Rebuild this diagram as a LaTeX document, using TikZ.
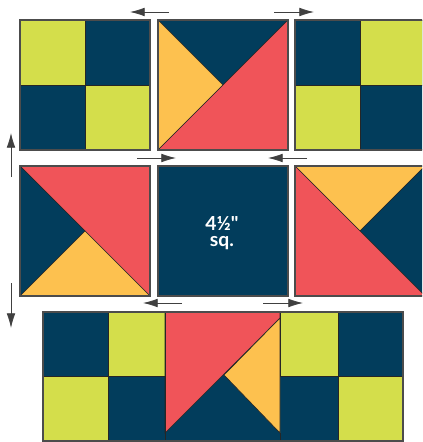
\documentclass[tikz,border=0pt]{standalone}
\usepackage{fontspec}
\newfontfamily\sqfont{Lato}
\usetikzlibrary{arrows.meta}

\definecolor{navy}{HTML}{023D5C}
\definecolor{lime}{HTML}{D4DE4B}
\definecolor{gold}{HTML}{FDC14F}
\definecolor{coral}{HTML}{F05459}

\begin{document}
\begin{tikzpicture}[
  x=0.75pt,y=-0.75pt,
  patch/.style={draw=black!85,line width=0.5pt,line join=miter},
  outline/.style={draw=black!70,line width=0.8pt},
  press/.style={-{Latex[length=11pt,width=6.5pt]},line width=0.6pt,black!75},
  sizetext/.style={font=\sqfont\bfseries\fontsize{14.5}{12.5}\selectfont,
                   text=white,align=center,inner sep=0pt}
]
  \useasboundingbox (0,0) rectangle (422,442);
  \clip (0,0) rectangle (422,442);

  % row 1: four-patch, half-square triangles, four-patch
  \fill[navy] (20,20) rectangle (150,150);
  \filldraw[patch,fill=lime] (20,20) rectangle (85,85);
  \filldraw[patch,fill=lime] (85,85) rectangle (150,150);
  \draw[outline] (20,20) rectangle (150,150);

  \filldraw[patch,fill=navy] (158,20) -- (288,20) -- (223,85) -- cycle;
  \filldraw[patch,fill=gold] (158,20) -- (223,85) -- (158,150) -- cycle;
  \filldraw[patch,fill=coral] (158,150) -- (288,20) -- (288,150) -- cycle;
  \draw[outline] (158,20) rectangle (288,150);

  \fill[navy] (295,20) rectangle (425,150);
  \filldraw[patch,fill=lime] (360,20) rectangle (425,85);
  \filldraw[patch,fill=lime] (295,85) rectangle (360,150);
  \draw[outline] (295,20) rectangle (425,150);

  % row 2
  \filldraw[patch,fill=coral] (20,166) -- (150,166) -- (150,296) -- cycle;
  \filldraw[patch,fill=navy] (20,166) -- (85,231) -- (20,296) -- cycle;
  \filldraw[patch,fill=gold] (20,296) -- (85,231) -- (150,296) -- cycle;
  \draw[outline] (20,166) rectangle (150,296);

  \fill[navy] (158,166) rectangle (288,296);
  \draw[outline] (158,166) rectangle (288,296);
  \node[sizetext] (size) at (222,233) {4½"\\sq.};

  \filldraw[patch,fill=gold] (295,166) -- (425,166) -- (360,231) -- cycle;
  \filldraw[patch,fill=navy] (425,166) -- (360,231) -- (425,296) -- cycle;
  \filldraw[patch,fill=coral] (295,166) -- (425,296) -- (295,296) -- cycle;
  \draw[outline] (295,166) rectangle (425,296);

  % row 3: sewn row
  \fill[navy] (43,312) rectangle (403,441);
  \filldraw[patch,fill=lime] (108,312) rectangle (165,376);
  \filldraw[patch,fill=lime] (43,376) rectangle (108,441);
  \filldraw[patch,fill=coral] (165,312) -- (280,312) -- (280,318) -- (165,433) -- cycle;
  \filldraw[patch,fill=gold] (280,318) -- (224,375) -- (280,433) -- cycle;
  \filldraw[patch,fill=lime] (280,312) rectangle (338,376);
  \filldraw[patch,fill=lime] (338,376) rectangle (403,441);
  \draw[patch] (108,376) -- (108,441) (165,312) -- (165,441)
               (280,433) -- (280,441) (338,312) -- (338,376);
  \draw[outline] (43,312) rectangle (403,441);

  % pressing directions
  \coordinate (r1a) at (169,12);  \coordinate (r1b) at (130,12);
  \coordinate (r1c) at (274,12);  \coordinate (r1d) at (314,12);
  \coordinate (r2a) at (137,158); \coordinate (r2b) at (176,158);
  \coordinate (r2c) at (307,158); \coordinate (r2d) at (268,158);
  \coordinate (r3a) at (182,303); \coordinate (r3b) at (143,303);
  \coordinate (r3c) at (263,303); \coordinate (r3d) at (303,303);
  \coordinate (upa) at (11,177);  \coordinate (upb) at (11,133);
  \coordinate (dna) at (11,283);  \coordinate (dnb) at (11,328);

  \draw[press] (r1a) -- (r1b);
  \draw[press] (r1c) -- (r1d);
  \draw[press] (r2a) -- (r2b);
  \draw[press] (r2c) -- (r2d);
  \draw[press] (r3a) -- (r3b);
  \draw[press] (r3c) -- (r3d);
  \draw[press] (upa) -- (upb);
  \draw[press] (dna) -- (dnb);
\end{tikzpicture}
\end{document}
